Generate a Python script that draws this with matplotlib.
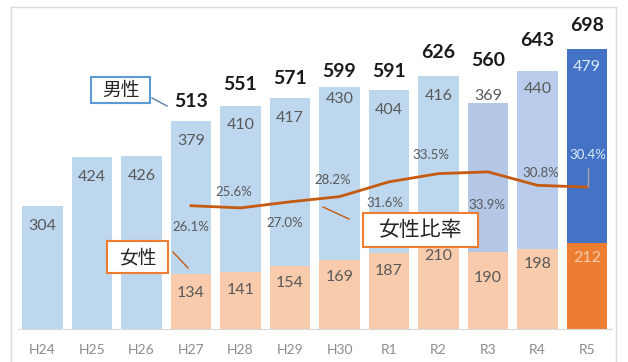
import numpy as np
import matplotlib
matplotlib.use('Agg')
from matplotlib import pyplot as plt
from matplotlib.patches import Rectangle
from matplotlib.lines import Line2D

plt.rcParams['font.family'] = ['Lato', 'Noto Sans CJK JP', 'DejaVu Sans']

# data
years = ['H24', 'H25', 'H26', 'H27', 'H28', 'H29', 'H30', 'R1', 'R2', 'R3', 'R4', 'R5']
male = [304, 424, 426, 379, 410, 417, 430, 404, 416, 369, 440, 479]
female = [np.nan, np.nan, np.nan, 134, 141, 154, 169, 187, 210, 190, 198, 212]
totals = [None, None, None, 513, 551, 571, 599, 591, 626, 560, 643, 698]
ratio = [np.nan, np.nan, np.nan, 26.1, 25.6, 27.0, 28.2, 31.6, 33.5, 33.9, 30.8, 30.4]

# label placement tweaks (pixels), like the manual moves in the original
male_lab_dy = [-20, -20, -20, -20, -19, -20, -12, -20, -20, 7, -18, -18]
fem_lab_dy = [0, 0, 0, -19, -18, -17, -17, -18, -12, -26, -15, -15]
tot_lab_dy = [0, 0, 0, 20, 21, 19, 15, 18, 23, 42, 30, 24]
pct_lab_dx = [0, 0, 0, 0, -7, -5, -7, -4, -8, -1, 3, 1]
pct_lab_dy = [0, 0, 0, -21, 16, -21, 17, -21, 19, -33, 12, 32]

W, H = 628, 362
fig = plt.figure(figsize=(W / 100, H / 100), dpi=100)


def fx(x):
    return x / W


def fy(y):
    return 1 - y / H


base_y = 328.5
top_y = 20
left_x = 17.75
ax = fig.add_axes([fx(left_x), fy(base_y), 594 / W, (base_y - top_y) / H])

x = np.arange(len(years))
male_col = ['#BDD7EE'] * 9 + ['#B4C7E7', '#B9CCEB', '#4472C4']
fem_col = ['#F8CBAD'] * 11 + ['#ED7D31']
fem = np.array(female, dtype=float)
fem_bottom = np.nan_to_num(fem)

ax.bar(x, fem_bottom, width=0.81, color=fem_col, zorder=2)
ax.bar(x, male, width=0.81, bottom=fem_bottom, color=male_col, zorder=2)

ax.set_xlim(-0.5, len(years) - 0.5)
ax.set_ylim(0, (base_y - top_y) / 0.404)
for s in ['top', 'right', 'left']:
    ax.spines[s].set_visible(False)
ax.spines['bottom'].set_color('#D9D9D9')
ax.set_yticks([])
ax.set_xticks(x)
ax.set_xticklabels(years, fontsize=10, color='#8C8C8C')
ax.tick_params(axis='x', length=0, pad=11)

for i in range(len(years)):
    top = fem_bottom[i] + male[i]
    mc = '#DDEBF7' if i == len(years) - 1 else '#595959'
    ax.annotate(str(male[i]), (x[i], top), xytext=(0, male_lab_dy[i]), textcoords='offset pixels',
                ha='center', va='center', fontsize=11.5, color=mc, zorder=5)
    if not np.isnan(fem[i]):
        fc = '#F8CBAD' if i == len(years) - 1 else '#595959'
        ax.annotate(str(int(fem[i])), (x[i], fem[i]), xytext=(0, fem_lab_dy[i]), textcoords='offset pixels',
                    ha='center', va='center', fontsize=11.5, color=fc, zorder=5)
    if totals[i] is not None:
        ax.annotate(str(totals[i]), (x[i], top), xytext=(0, tot_lab_dy[i]), textcoords='offset pixels',
                    ha='center', va='center', fontsize=14, fontweight='bold', color='#1a1a1a', zorder=5)

# female ratio line on a hidden second axis
ax2 = ax.twinx()
ax2.set_ylim(-(base_y - 319) / 4.34, (319 - top_y) / 4.34)
ax2.axis('off')
r = np.array(ratio, dtype=float)
ok = ~np.isnan(r)
ax2.plot(x[ok], r[ok], color='#C55A11', lw=2, zorder=4)
for i in range(len(years)):
    if ok[i]:
        pc = '#DDEBF7' if i == len(years) - 1 else '#595959'
        ax2.annotate('%.1f%%' % r[i], (x[i], r[i]), xytext=(pct_lab_dx[i], pct_lab_dy[i]),
                     textcoords='offset pixels', ha='center', va='center', fontsize=9.5, color=pc, zorder=6)

# outer frame
frame = dict(color='#D9D9D9', lw=1, transform=fig.transFigure)
fig.add_artist(Line2D([fx(11), fx(616)], [fy(7), fy(7)], **frame))
fig.add_artist(Line2D([fx(11), fx(11)], [fy(7), 0], **frame))
fig.add_artist(Line2D([fx(616), fx(616)], [fy(7), 0], **frame))


def callout(x0, y0, x1, y1, text, edge, size):
    fig.add_artist(Rectangle((fx(x0), fy(y1)), fx(x1 - x0), (y1 - y0) / H, transform=fig.transFigure,
                             facecolor='white', edgecolor=edge, lw=1.5, zorder=10))
    fig.text(fx((x0 + x1) / 2), fy((y0 + y1) / 2), text, ha='center', va='center',
             fontsize=size, color='#262626', zorder=11)


def leader(x0, y0, x1, y1, col):
    fig.add_artist(Line2D([fx(x0), fx(x1)], [fy(y0), fy(y1)], color=col, lw=1,
                          transform=fig.transFigure, zorder=9))


callout(91, 77, 150, 103, '男性', '#5B9BD5', 13.5)
leader(152, 98, 167, 106, '#5B7FA8')
callout(107, 241, 168, 273, '女性', '#ED7D31', 13.5)
leader(173, 252, 188, 268, '#C55A11')
callout(363, 213, 478, 247, '女性比率', '#ED7D31', 15)
leader(323, 207, 349, 219, '#C55A11')
leader(588, 168, 588, 186, '#A6A6A6')

plt.savefig('out.png', dpi=100)
plt.close()
